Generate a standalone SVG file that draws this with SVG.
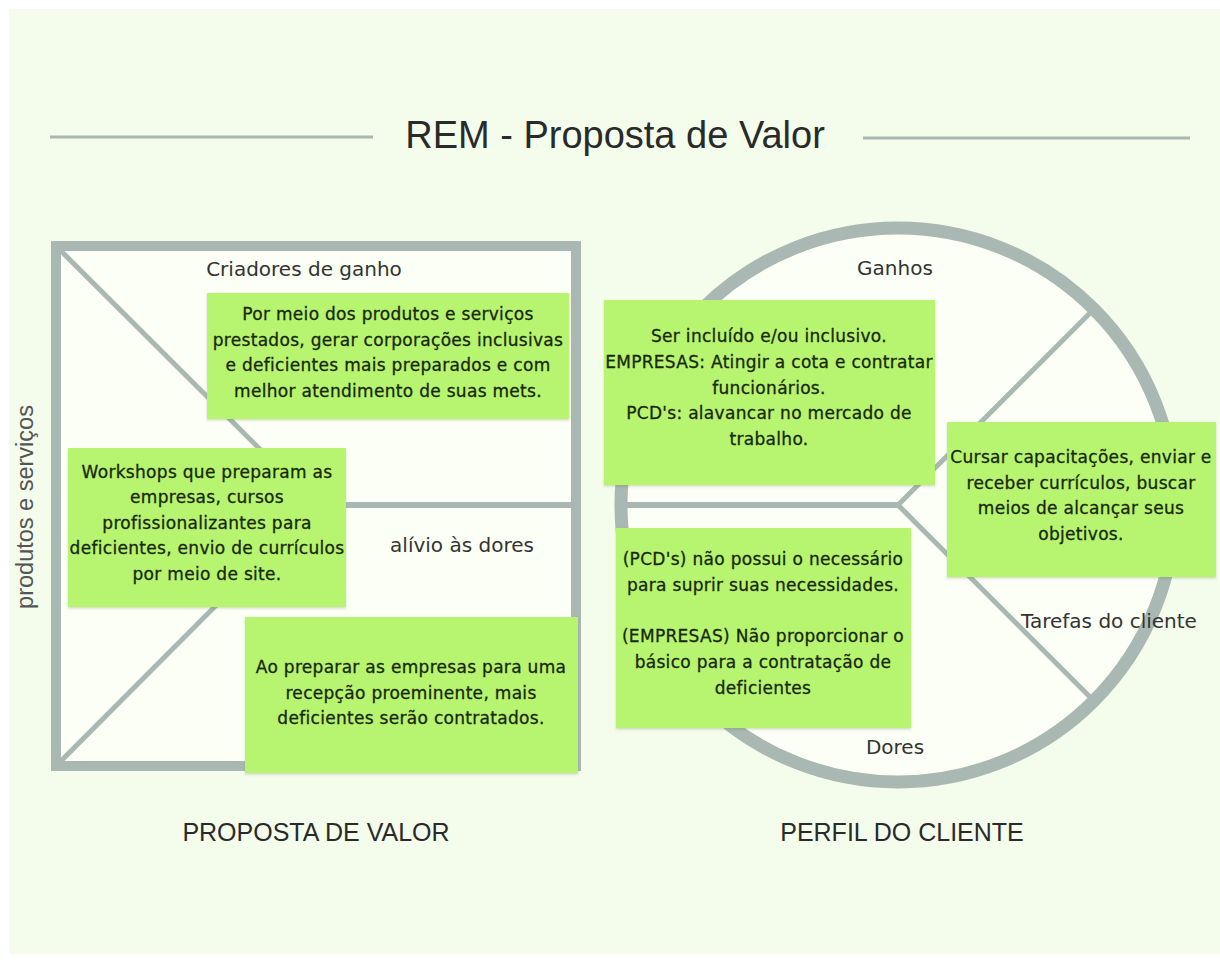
<svg xmlns="http://www.w3.org/2000/svg" width="1220" height="961" viewBox="0 0 1220 961">
<defs>
<style>
.bg{fill:#f4fceb}
.frame{fill:#fbfff5;stroke:#a9b8b2}
.ln{stroke:#a9b8b2;fill:none;stroke-linecap:butt}
.note{fill:#b7f46f;filter:url(#sh)}
.nt{font-family:"DejaVu Sans",sans-serif;font-size:17px;letter-spacing:0.3px;fill:#182808;stroke:#182808;stroke-width:0.3px;text-anchor:middle}
.lab{font-family:"DejaVu Sans",sans-serif;font-size:20px;fill:#333;text-anchor:middle}
.ttl{font-family:"Liberation Sans",sans-serif;fill:#2a2a2a;text-anchor:middle}
</style>
<filter id="sh" x="-5%" y="-5%" width="110%" height="115%">
<feDropShadow dx="0" dy="1.5" stdDeviation="1.2" flood-color="#5a7040" flood-opacity="0.25"/>
</filter>
</defs>
<rect x="0" y="0" width="1220" height="961" fill="#ffffff"/>
<rect class="bg" x="9" y="9" width="1211" height="945"/>

<g id="title">
<line class="ln" x1="50" y1="137" x2="373" y2="137" stroke-width="3"/>
<line class="ln" x1="863" y1="138" x2="1190" y2="138" stroke-width="3"/>
<text class="ttl" x="615" y="148" font-size="38">REM - Proposta de Valor</text>
</g>

<g id="connectors">
<rect class="frame" x="56" y="246" width="520" height="520" stroke-width="10"/>
<line class="ln" x1="61" y1="251" x2="316" y2="505" stroke-width="5"/>
<line class="ln" x1="61" y1="761" x2="316" y2="505" stroke-width="5"/>
<line class="ln" x1="314" y1="505" x2="572" y2="505" stroke-width="6"/>
<circle cx="898" cy="505" r="277" fill="#fbfff5" stroke="#a9b8b2" stroke-width="13"/>
<line class="ln" x1="626" y1="505" x2="898" y2="505" stroke-width="6"/>
<line class="ln" x1="898" y1="505" x2="1092" y2="311" stroke-width="5"/>
<line class="ln" x1="898" y1="505" x2="1092" y2="699" stroke-width="5"/>
</g>

<g id="label-produtos">
<text font-family="Liberation Sans, sans-serif" font-size="23.5" fill="#555" text-anchor="middle" transform="translate(33,507) rotate(-90)">produtos e serviços</text>
</g>
<g id="label-criadores"><text class="lab" x="304" y="276">Criadores de ganho</text></g>
<g id="label-alivio"><text class="lab" x="462" y="552">alívio às dores</text></g>
<g id="label-ganhos"><text class="lab" x="895" y="275">Ganhos</text></g>
<g id="label-dores"><text class="lab" x="895" y="754">Dores</text></g>

<g id="note-ganho">
<rect class="note" x="207" y="293" width="362" height="126"/>
<text class="nt" x="388" y="320">Por meio dos produtos e serviços</text>
<text class="nt" x="388" y="346">prestados, gerar corporações inclusivas</text>
<text class="nt" x="388" y="371">e deficientes mais preparados e com</text>
<text class="nt" x="388" y="397">melhor atendimento de suas mets.</text>
</g>

<g id="note-produtos">
<rect class="note" x="68" y="448" width="278" height="159"/>
<text class="nt" x="207" y="478">Workshops que preparam as</text>
<text class="nt" x="207" y="503">empresas, cursos</text>
<text class="nt" x="207" y="529">profissionalizantes para</text>
<text class="nt" x="207" y="554">deficientes, envio de currículos</text>
<text class="nt" x="207" y="580">por meio de site.</text>
</g>

<g id="note-alivio">
<rect class="note" x="245" y="617" width="333" height="156"/>
<text class="nt" x="411" y="673">Ao preparar as empresas para uma</text>
<text class="nt" x="411" y="699">recepção proeminente, mais</text>
<text class="nt" x="411" y="724">deficientes serão contratados.</text>
</g>

<g id="note-ganhos">
<rect class="note" x="604" y="300" width="331" height="185"/>
<text class="nt" x="769" y="342">Ser incluído e/ou inclusivo.</text>
<text class="nt" x="769" y="368">EMPRESAS: Atingir a cota e contratar</text>
<text class="nt" x="769" y="394">funcionários.</text>
<text class="nt" x="769" y="419">PCD's: alavancar no mercado de</text>
<text class="nt" x="769" y="445">trabalho.</text>
</g>

<g id="note-tarefas">
<rect class="note" x="947" y="422" width="269" height="155"/>
<text class="nt" x="1081" y="463">Cursar capacitações, enviar e</text>
<text class="nt" x="1081" y="489">receber currículos, buscar</text>
<text class="nt" x="1081" y="514">meios de alcançar seus</text>
<text class="nt" x="1081" y="540">objetivos.</text>
</g>

<g id="note-dores">
<rect class="note" x="616" y="528" width="295" height="200"/>
<text class="nt" x="763" y="565">(PCD's) não possui o necessário</text>
<text class="nt" x="763" y="591">para suprir suas necessidades.</text>
<text class="nt" x="763" y="642">(EMPRESAS) Não proporcionar o</text>
<text class="nt" x="763" y="668">básico para a contratação de</text>
<text class="nt" x="763" y="694">deficientes</text>
</g>

<g id="label-tarefas"><text class="lab" x="1109" y="628">Tarefas do cliente</text></g>

<g id="footer">
<text class="ttl" x="316" y="841" font-size="25">PROPOSTA DE VALOR</text>
<text class="ttl" x="902" y="841" font-size="25">PERFIL DO CLIENTE</text>
</g>
</svg>
